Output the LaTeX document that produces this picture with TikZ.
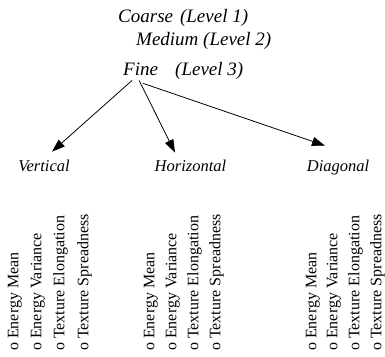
\documentclass[tikz,border=0pt]{standalone}
\usepackage{fontspec}
\setmainfont{Liberation Serif}
\usetikzlibrary{arrows.meta}
\pgfdeclarelayer{edgelayer}
\pgfdeclarelayer{nodelayer}
\pgfsetlayers{edgelayer,nodelayer,main}
\tikzstyle{level}=[anchor=base west, inner sep=0pt, font=\fontsize{19}{23}\selectfont\itshape]
\tikzstyle{band}=[anchor=base, inner sep=0pt, font=\fontsize{16.5}{20}\selectfont\itshape]
\tikzstyle{feature}=[anchor=mid west, rotate=90, inner sep=0pt, font=\fontsize{16}{19}\selectfont]
\tikzstyle{arrowedge}=[draw=black, line width=0.8pt, -{Triangle[length=13pt,width=9pt]}]

\begin{document}
\begin{tikzpicture}[x=1pt, y=1pt]
						\useasboundingbox (0, 0) rectangle (385, 356);
						\begin{pgfonlayer}{nodelayer}
							\node [style=level] (1) at (118, 333) {Coarse\hspace{7pt}(Level 1)};
							\node [style=level] (2) at (136, 310) {Medium (Level 2)};
							\node [style=level] (3) at (123, 280) {Fine};
							\node [style=level] (4) at (175, 280) {(Level 3)};
							\node [style=band] (5) at (44, 184) {Vertical};
							\node [style=band] (6) at (190.5, 184) {Horizontal};
							\node [style=band] (7) at (338, 184) {Diagonal};
							% vertical band features
							\node [style=feature] (8) at (16, 5) {o Energy Mean};
							\node [style=feature] (9) at (39, 5) {o Energy Variance};
							\node [style=feature] (10) at (62, 5) {o Texture Elongation};
							\node [style=feature] (11) at (86, 5) {o Texture Spreadness};
							% horizontal band features
							\node [style=feature] (12) at (152, 5) {o Energy Mean};
							\node [style=feature] (13) at (174, 5) {o Energy Variance};
							\node [style=feature] (14) at (196, 5) {o Texture Elongation};
							\node [style=feature] (15) at (218, 5) {o Texture Spreadness};
							% diagonal band features
							\node [style=feature] (16) at (314, 5) {o Energy Mean};
							\node [style=feature] (17) at (335, 5) {o Energy Variance};
							\node [style=feature] (18) at (357, 5) {o Texture Elongation};
							\node [style=feature] (19) at (379, 5) {o Texture Spreadness};
						\end{pgfonlayer}
						\begin{pgfonlayer}{edgelayer}
							\draw [style=arrowedge] ([xshift=-8.5pt, yshift=-4pt]3.south) to ([xshift=8pt, yshift=8.7pt]5.north);
							\draw [style=arrowedge] ([xshift=-1.5pt, yshift=-4pt]3.south) to ([xshift=-15.5pt, yshift=7.7pt]6.north);
							\draw [style=arrowedge] ([xshift=2.5pt, yshift=-7pt]3.south) to ([xshift=-13pt, yshift=14.7pt]7.north);
						\end{pgfonlayer}
					\end{tikzpicture}
\end{document}
